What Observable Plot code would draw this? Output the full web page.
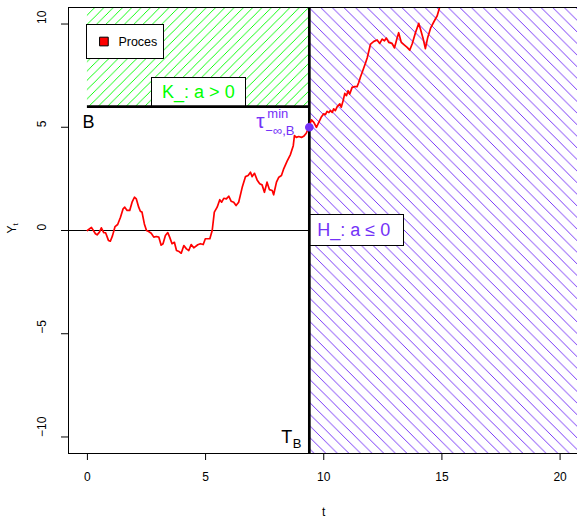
<!DOCTYPE html>
<html><head><meta charset="utf-8">
<script src="https://cdn.jsdelivr.net/npm/d3@7"></script>
<script src="https://cdn.jsdelivr.net/npm/@observablehq/plot@0.6"></script>
<style>
html,body{margin:0;padding:0;background:#fff;overflow:hidden}
</style>
</head><body><div id="chart"></div>
<script>
// ---- data ----
const times = [0,0.17,0.34,0.41,0.51,0.59,0.69,0.77,0.89,0.97,1.06,1.17,1.28,1.40,1.51,1.58,1.68,1.79,1.89,1.99,2.07,2.17,2.24,2.31,2.41,2.50,2.59,2.70,2.81,2.92,3.02,3.12,3.20,3.30,3.40,3.48,3.58,3.68,3.77,3.88,3.97,4.08,4.19,4.29,4.39,4.50,4.67,4.78,4.90,4.99,5.18,5.28,5.37,5.49,5.60,5.68,5.77,5.88,5.98,6.08,6.19,6.29,6.40,6.55,6.69,6.80,6.90,6.97,7.07,7.18,7.29,7.39,7.49,7.60,7.70,7.82,7.88,8.00,8.10,8.21,8.31,8.45,8.59,8.71,8.76,8.84,8.94,9.06,9.15,9.26,9.37,9.48,9.58,9.69,9.79,9.89,10.00,10.07,10.14,10.22,10.28,10.36,10.42,10.49,10.57,10.68,10.74,10.82,10.89,10.96,11.03,11.10,11.20,11.30,11.41,11.48,11.55,11.65,11.76,11.84,11.98,12.12,12.26,12.37,12.47,12.57,12.65,12.75,12.89,12.99,13.11,13.17,13.28,13.39,13.53,13.64,13.74,13.88,14.02,14.09,14.21,14.30,14.40,14.52,14.66,14.80,14.87,14.96];
const values = [0,0.15,-0.16,-0.21,-0.08,0.13,-0.10,-0.11,-0.48,-0.52,-0.26,0.19,0.29,0.64,1.05,1.13,0.97,0.97,1.37,1.61,1.53,1.13,0.93,0.89,0.32,0.00,-0.05,-0.13,-0.32,-0.29,-0.32,-0.71,-0.64,-0.24,-0.10,-0.32,-0.64,-0.57,-0.97,-1.02,-1.10,-0.73,-0.89,-0.97,-0.68,-0.84,-0.69,-0.64,-0.68,-0.40,-0.40,0.00,0.89,1.13,1.49,1.37,1.56,1.53,1.66,1.42,1.37,1.21,1.37,2.09,2.61,2.66,2.82,2.61,2.77,2.45,2.26,2.21,1.85,2.34,1.98,1.94,1.73,2.34,2.58,2.66,3.00,3.36,3.68,4.11,4.60,4.51,4.55,4.51,4.56,4.71,5.00,5.36,5.24,5.00,5.24,5.48,5.65,5.61,5.77,5.71,5.81,5.72,5.89,5.81,6.00,6.13,5.97,6.29,6.64,6.53,6.77,6.61,6.93,6.97,6.97,7.17,7.42,7.74,8.09,8.37,9.03,9.16,9.23,9.06,9.27,9.19,9.32,9.11,9.06,8.84,9.35,9.58,9.11,9.00,8.87,8.74,9.03,9.58,10.03,9.76,9.27,8.81,9.35,9.80,10.11,10.40,10.68,11.03];
const tB = 9.39;          // hitting time T_B
const levelB = 6;         // barrier B
const tauValue = 5.0;     // value marked at tau
const legendAt = [0, 10]; // legend anchor (t, y)
const xTicks = [0, 5, 10, 15, 20];
const yTicks = [-10, -5, 0, 5, 10];
const xDomain = [-0.8, 20.8];
const yDomain = [-10.8, 10.8];
const legendLabels = ["Proces"];
const kLabel = "K_: a > 0";
const hLabel = "H_: a \u2264 0";

const RED = "#ff0000", GREEN = "#00ff00", PURPLE = "#7432f7";

const proc = times.slice(0, Math.min(times.length, values.length)).map((t, i) => ({t, y: values[i]}));
const greenRegion = [{x1: 0, x2: tB, y1: levelB, y2: yDomain[1]}];
const purpleRegion = [{x1: tB, x2: xDomain[1], y1: yDomain[0], y2: yDomain[1]}];

const fmt = d => String(d).replace("-", "\u2212");

const svg = Plot.plot({
  width: 577, height: 520,
  marginLeft: 68, marginRight: -1.5, marginTop: 7, marginBottom: 67,
  style: {fontFamily: "'Liberation Sans', Arial, Helvetica, sans-serif", fontSize: "12px", color: "black", background: "white"},
  x: {domain: xDomain, ticks: xTicks, tickSize: 7, tickFormat: () => "", label: null},
  y: {domain: yDomain, ticks: yTicks, tickSize: 7, tickFormat: () => "", label: null},
  marks: [
    Plot.rect(greenRegion, {x1: "x1", x2: "x2", y1: "y1", y2: "y2", fill: "url(#hatch-green)", clip: true}),
    Plot.rect(purpleRegion, {x1: "x1", x2: "x2", y1: "y1", y2: "y2", fill: "url(#hatch-purple)", clip: true}),
    Plot.ruleY([0], {x1: xDomain[0], x2: tB, stroke: "black", strokeWidth: 1}),
    Plot.ruleY([levelB], {x1: 0, x2: tB, stroke: "black", strokeWidth: 2.7}),
    Plot.ruleX([tB], {stroke: "black", strokeWidth: 2.7}),
    Plot.line(proc, {x: "t", y: "y", stroke: RED, strokeWidth: 1.7, clip: true}),
    Plot.dot([{t: tB, y: tauValue}], {x: "t", y: "y", r: 3.6, fill: PURPLE, stroke: PURPLE}),
    Plot.frame({stroke: "black"}),
    // axis tick labels
    Plot.text(xTicks, {x: d => d, frameAnchor: "bottom", dy: 27, text: fmt, fontSize: 12}),
    Plot.text(yTicks, {y: d => d, frameAnchor: "left", dx: -26, rotate: -90, text: fmt, fontSize: 12}),
    // axis titles
    Plot.text(["t"], {frameAnchor: "bottom", dy: 62, text: d => d, fontSize: 12}),
    Plot.text(["Y"], {y: () => 0, frameAnchor: "left", dx: -56, dy: 3, rotate: -90, text: d => d, fontSize: 12}),
    Plot.text(["t"], {y: () => 0, frameAnchor: "left", dx: -53, dy: -5, rotate: -90, text: d => d, fontSize: 8}),
    // legend
    Plot.dot([legendAt], {x: d => d[0], y: d => d[1], dx: 16.5, dy: 17.5, symbol: "square", r: 4.9, fill: RED, stroke: "black", strokeWidth: 1}),
    Plot.text([legendAt], {x: d => d[0], y: d => d[1], dx: 31, dy: 17.5, text: () => legendLabels[0], textAnchor: "start", fontSize: 12.5}),
    // B label
    Plot.text([levelB], {x: () => 0, y: d => d, dx: -5, dy: 16, text: () => "B", textAnchor: "start", fontSize: 18}),
    // K label
    Plot.text([levelB], {x: () => tB / 2, y: d => d, dy: -14.5, text: () => kLabel, fill: GREEN, fontSize: 18}),
    // H label
    Plot.text([0], {x: () => tB, y: d => d, dx: 8, dy: 0, text: () => hLabel, textAnchor: "start", fill: PURPLE, fontSize: 18}),
    // tau label
    Plot.text([tauValue], {x: () => tB, y: d => d, dx: -53, dy: -6, text: () => "\u03c4", textAnchor: "start", fill: PURPLE, fontSize: 21}),
    Plot.text([tauValue], {x: () => tB, y: d => d, dx: -42, dy: -13, text: () => "min", textAnchor: "start", fill: PURPLE, fontSize: 13}),
    Plot.text([tauValue], {x: () => tB, y: d => d, dx: -44, dy: 3.5, text: () => "\u2212\u221e,B", textAnchor: "start", fill: PURPLE, fontSize: 13}),
    // T_B label
    Plot.text([tB], {x: d => d, frameAnchor: "bottom", dx: -28, dy: -11, text: () => "T", textAnchor: "start", fontSize: 18}),
    Plot.text([tB], {x: d => d, frameAnchor: "bottom", dx: -16.5, dy: -6, text: () => "B", textAnchor: "start", fontSize: 13})
  ]
});
document.getElementById("chart").appendChild(svg);

// hatch patterns (shading lines like R's rect density)
const sG = 9.3, sP = 11.6;
const defs = d3.select(svg).insert("defs", ":first-child");
const pg = defs.append("pattern").attr("id", "hatch-green").attr("patternUnits", "userSpaceOnUse")
  .attr("width", sG).attr("height", sG);
pg.append("path").attr("d", `M0,${sG}L${sG},0M-2,2L2,-2M${sG-2},${sG+2}L${sG+2},${sG-2}`)
  .attr("stroke", GREEN).attr("stroke-width", 1).attr("fill", "none").attr("shape-rendering", "crispEdges");
const pp = defs.append("pattern").attr("id", "hatch-purple").attr("patternUnits", "userSpaceOnUse")
  .attr("width", sP).attr("height", sP);
pp.append("path").attr("d", `M0,0L${sP},${sP}M-2,${sP-2}L2,${sP+2}M${sP-2},-2L${sP+2},2`)
  .attr("stroke", PURPLE).attr("stroke-width", 1).attr("fill", "none").attr("shape-rendering", "crispEdges");

// legend-style boxes (white fill, black border), placed above hatching, below lines & text
const sx = svg.scale("x"), sy = svg.scale("y");
const X = v => sx.apply(v), Y = v => sy.apply(v);
const boxes = d3.create("svg:g").attr("aria-label", "boxes");
function box(x, y, w, h) {
  boxes.append("rect").attr("x", Math.round(x) + 0.5).attr("y", Math.round(y) + 0.5)
    .attr("width", w).attr("height", h).attr("fill", "white").attr("stroke", "black").attr("stroke-width", 1);
}
box(X(legendAt[0]) - 1, Y(legendAt[1]), 77, 34);
box(X(tB / 2) - 47, Y(levelB) - 29, 94, 29);
box(X(tB), Y(0) - 16, 94, 31);
const firstRule = svg.querySelector('g[aria-label="rule"]');
if (firstRule) firstRule.before(boxes.node());
else {
  const firstText = svg.querySelector('g[aria-label="text"]');
  if (firstText) firstText.before(boxes.node()); else svg.appendChild(boxes.node());
}
</script>
</body></html>
